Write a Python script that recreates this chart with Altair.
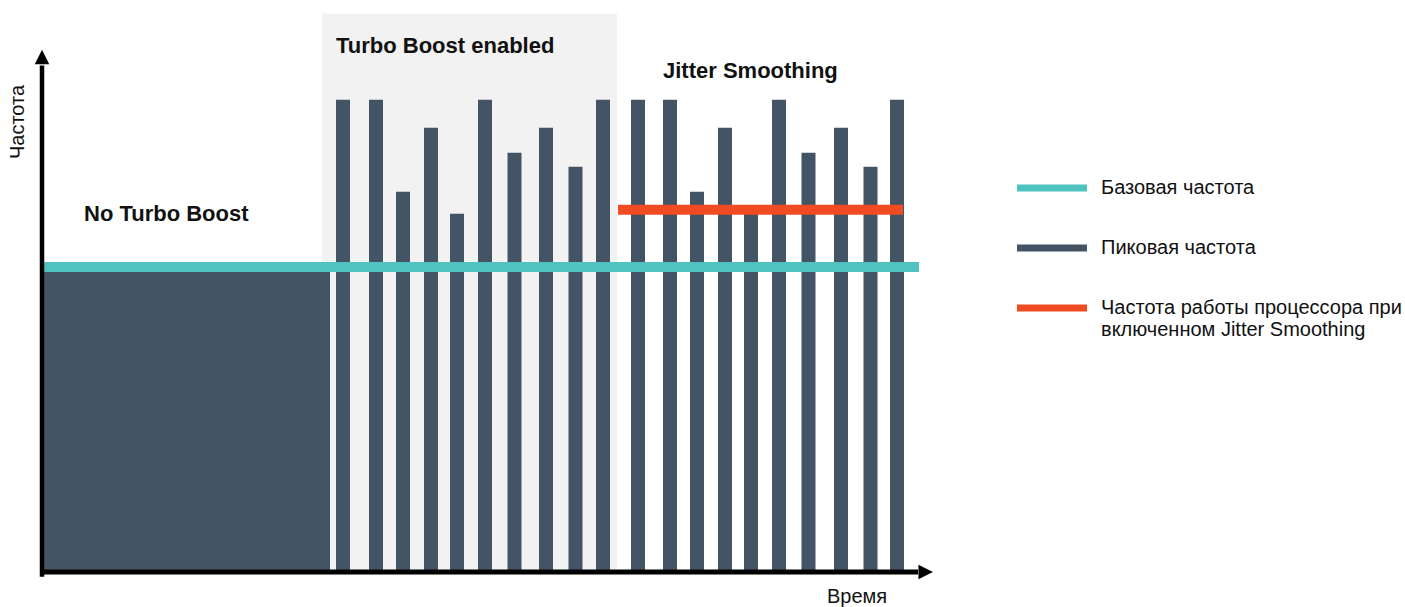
import altair as alt
import pandas as pd

# ---------------- data (time units along x, frequency in % of base frequency) ----------------
base_freq = 100.0
no_turbo_span = [2, 288]            # time span of the "No Turbo Boost" period
turbo_zone = [280, 575]             # shaded "Turbo Boost enabled" period
turbo_zone_top = 183
turbo_times = [301, 334, 361, 389, 415, 443, 472.5, 504, 533.5, 561]
jitter_times = [596, 628, 655, 683, 709, 737, 766.5, 799, 828.5, 855]
peak_freqs = [154.8, 154.8, 124.6, 145.6, 117.4, 154.8, 137.4, 145.6, 132.8, 154.8]
base_line_span = [2, 877]
jitter_freq = 118.7
jitter_line_span = [576, 861]
series_names = ["Базовая частота", "Пиковая частота",
                "Частота работы процессора при\nвключенном Jitter Smoothing"]
series_colors = ["#50c3c0", "#435565", "#f04b22"]
axis_x_end, axis_y_end = 876, 166
arrow_x_tip, arrow_y_tip = 883.7, 168.8

region_labels = ["No Turbo Boost", "Turbo Boost enabled", "Jitter Smoothing"]
region_label_t = [42, 294, 621]
region_label_f = [117.5, 172.3, 164.3]

DARK = "#435565"
FONT = "Liberation Sans"

xs = alt.Scale(domain=[-42, 1363], nice=False, zero=False, padding=0)
ys = alt.Scale(domain=[-11.5, 187.5], nice=False, zero=False, padding=0)

def X(f="t"):
    return alt.X(f"{f}:Q", scale=xs, axis=None)

def Y(f="f"):
    return alt.Y(f"{f}:Q", scale=ys, axis=None)

color = alt.Color(
    "series:N",
    scale=alt.Scale(domain=series_names, range=series_colors),
    legend=alt.Legend(
        title=None, orient="none", legendX=1022, legendY=158, direction="vertical",
        padding=0, rowPadding=20,
        symbolType="M-1.1667,-0.1167L1.1667,-0.1167L1.1667,0.1167L-1.1667,0.1167Z",
        symbolSize=3600, symbolStrokeWidth=0, symbolOpacity=1,
        labelFont=FONT, labelFontSize=20, labelColor="#111111", labelOffset=19,
        labelLimit=500, labelExpr="split(datum.label, '\\n')",
    ),
)

# background zone
zone_df = pd.DataFrame({"t0": [turbo_zone[0]], "t1": [turbo_zone[1]], "f0": [0], "f1": [turbo_zone_top]})
zone = alt.Chart(zone_df).mark_bar(color="#f2f2f2").encode(x=X("t0"), x2="t1:Q", y=Y("f0"), y2="f1:Q")

# no-turbo block
block_df = pd.DataFrame({"t0": [no_turbo_span[0]], "t1": [no_turbo_span[1]], "f0": [0], "f1": [base_freq]})
block = alt.Chart(block_df).mark_bar(color=DARK).encode(x=X("t0"), x2="t1:Q", y=Y("f0"), y2="f1:Q")

# peak bars
bars_df = pd.DataFrame({
    "t": turbo_times + jitter_times,
    "f": peak_freqs + peak_freqs,
    "f0": 0,
    "series": series_names[1],
})
bars = alt.Chart(bars_df).mark_bar(size=14).encode(x=X(), y=Y(), y2="f0:Q", color=color)

# base frequency line
base_df = pd.DataFrame({"t0": [base_line_span[0]], "t1": [base_line_span[1]], "f": [base_freq],
                        "series": [series_names[0]]})
base = alt.Chart(base_df).mark_bar(size=10).encode(x=X("t0"), x2="t1:Q", y=Y(), color=color)

# jitter smoothing line
jit_df = pd.DataFrame({"t0": [jitter_line_span[0]], "t1": [jitter_line_span[1]], "f": [jitter_freq],
                       "series": [series_names[2]]})
jit = alt.Chart(jit_df).mark_bar(size=10).encode(x=X("t0"), x2="t1:Q", y=Y(), color=color)

# axes
xaxis_df = pd.DataFrame({"t0": [-2], "t1": [axis_x_end], "f": [0]})
xaxis = alt.Chart(xaxis_df).mark_rule(strokeWidth=5, color="black").encode(x=X("t0"), x2="t1:Q", y=Y())
yaxis_df = pd.DataFrame({"t": [0], "f0": [-1.6], "f1": [axis_y_end]})
yaxis = alt.Chart(yaxis_df).mark_rule(strokeWidth=4.5, color="black").encode(x=X(), y=Y("f0"), y2="f1:Q")

arr_r = pd.DataFrame({"t": [arrow_x_tip], "f": [0]})
arrow_r = alt.Chart(arr_r).mark_point(shape="M-1,-1L1,0L-1,1Z", filled=True, size=210, color="black",
                                       opacity=1).encode(x=X(), y=Y())
arr_u = pd.DataFrame({"t": [0], "f": [arrow_y_tip]})
arrow_u = alt.Chart(arr_u).mark_point(shape="M-1,1L0,-1L1,1Z", filled=True, size=210, color="black",
                                       opacity=1).encode(x=X(), y=Y())

# region labels
lab_df = pd.DataFrame({"t": region_label_t, "f": region_label_f, "text": region_labels})
labels = alt.Chart(lab_df).mark_text(font=FONT, fontSize=22, fontWeight="bold", align="left",
                                     baseline="middle", color="#111111").encode(x=X(), y=Y(), text="text:N")

# axis titles
ytitle = alt.Chart(pd.DataFrame({"t": [-24], "f": [147.5], "text": ["Частота"]})).mark_text(
    font=FONT, fontSize=20, angle=270, align="center", baseline="middle", color="#111111"
).encode(x=X(), y=Y(), text="text:N")
xtitle = alt.Chart(pd.DataFrame({"t": [815], "f": [-8.2], "text": ["Время"]})).mark_text(
    font=FONT, fontSize=20, align="center", baseline="middle", color="#111111"
).encode(x=X(), y=Y(), text="text:N")

chart = alt.layer(zone, block, bars, base, jit, xaxis, yaxis, arrow_r, arrow_u, labels, ytitle, xtitle).properties(
    width=1405, height=607, autosize=alt.AutoSizeParams(type="none"), padding=0
).configure_view(stroke="transparent")

chart.save("out.html", embed_options={"renderer": "svg", "actions": False})
